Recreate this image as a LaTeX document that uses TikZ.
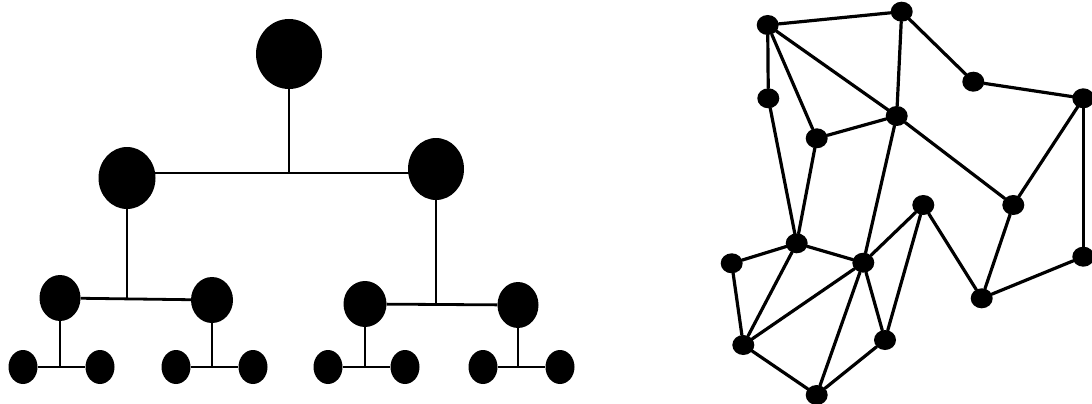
\documentclass[tikz,border=0pt]{standalone}
\usetikzlibrary{shapes.geometric}
\tikzset{
  blob/.style 2 args={ellipse, fill=black, draw=none, inner sep=0pt,
    minimum width=#1, minimum height=#2},
  treeline/.style={line width=2.8pt, black},
  netline/.style={line width=3.2pt, black, line cap=round}
}
\begin{document}
\begin{tikzpicture}[x=1pt, y=-1pt]
\useasboundingbox (0,0) rectangle (1092,404);

% ---------- hierarchical tree ----------
\coordinate (j0) at (288,173);
\node[blob={66pt}{70pt}] (root) at (289,54) {};
\node[blob={57pt}{62pt}] (m1) at (127,178) {};
\node[blob={56pt}{62pt}] (m2) at (436,169) {};
\node[blob={41pt}{46pt}] (l1) at (60,298) {};
\node[blob={42pt}{46pt}] (l2) at (212,300) {};
\node[blob={43pt}{46pt}] (l3) at (365,304) {};
\node[blob={41pt}{46pt}] (l4) at (518,305) {};
\foreach \n/\x in {a1/23,a2/100,a3/176,a4/253,a5/328,a6/405,a7/483,a8/560}
  \node[blob={29pt}{34pt}] (\n) at (\x,367) {};

\draw[treeline] (root) -- (root |- j0);
\draw[treeline] (m1 |- j0) -- (m2 |- j0);
\draw[treeline] (m1) -- (m1 |- l1);
\draw[treeline] (l1) -- (l2);
\draw[treeline] (m2) -- (m2 |- l3);
\draw[treeline] (l3) -- (l4);
\draw[treeline] (l1) -- (l1 |- a1);
\draw[treeline] (a1) -- (a2);
\draw[treeline] (l2) -- (l2 |- a3);
\draw[treeline] (a3) -- (a4);
\draw[treeline] (l3) -- (l3 |- a5);
\draw[treeline] (a5) -- (a6);
\draw[treeline] (l4) -- (l4 |- a7);
\draw[treeline] (a7) -- (a8);

% ---------- mesh network ----------
\foreach \n/\x/\y in {A/767.7/25, B/901.7/11.7, C/768.3/98.3, D/973.3/81.7,
    E/1083.3/98.3, F/896.7/116, G/816.7/138.3, H/923.3/205, I/1013.3/205,
    J/796.7/243.3, K/731.7/263.3, L/863.3/262.7, M/1083.3/256.7,
    N/981.7/298.3, O/743.3/345, P/885/340, Q/816.7/395}
  \node[blob={22pt}{20pt}] (\n) at (\x,\y) {};

\foreach \u/\v in {A/B, A/C, A/G, A/F, B/F, B/D, D/E, E/M, E/I, F/G, F/I,
    F/L, C/J, G/J, J/K, J/L, J/O, K/O, L/O, L/Q, L/P, L/H, H/P, H/N,
    I/N, N/M, O/Q, P/Q}
  \draw[netline] (\u) -- (\v);
\end{tikzpicture}
\end{document}
